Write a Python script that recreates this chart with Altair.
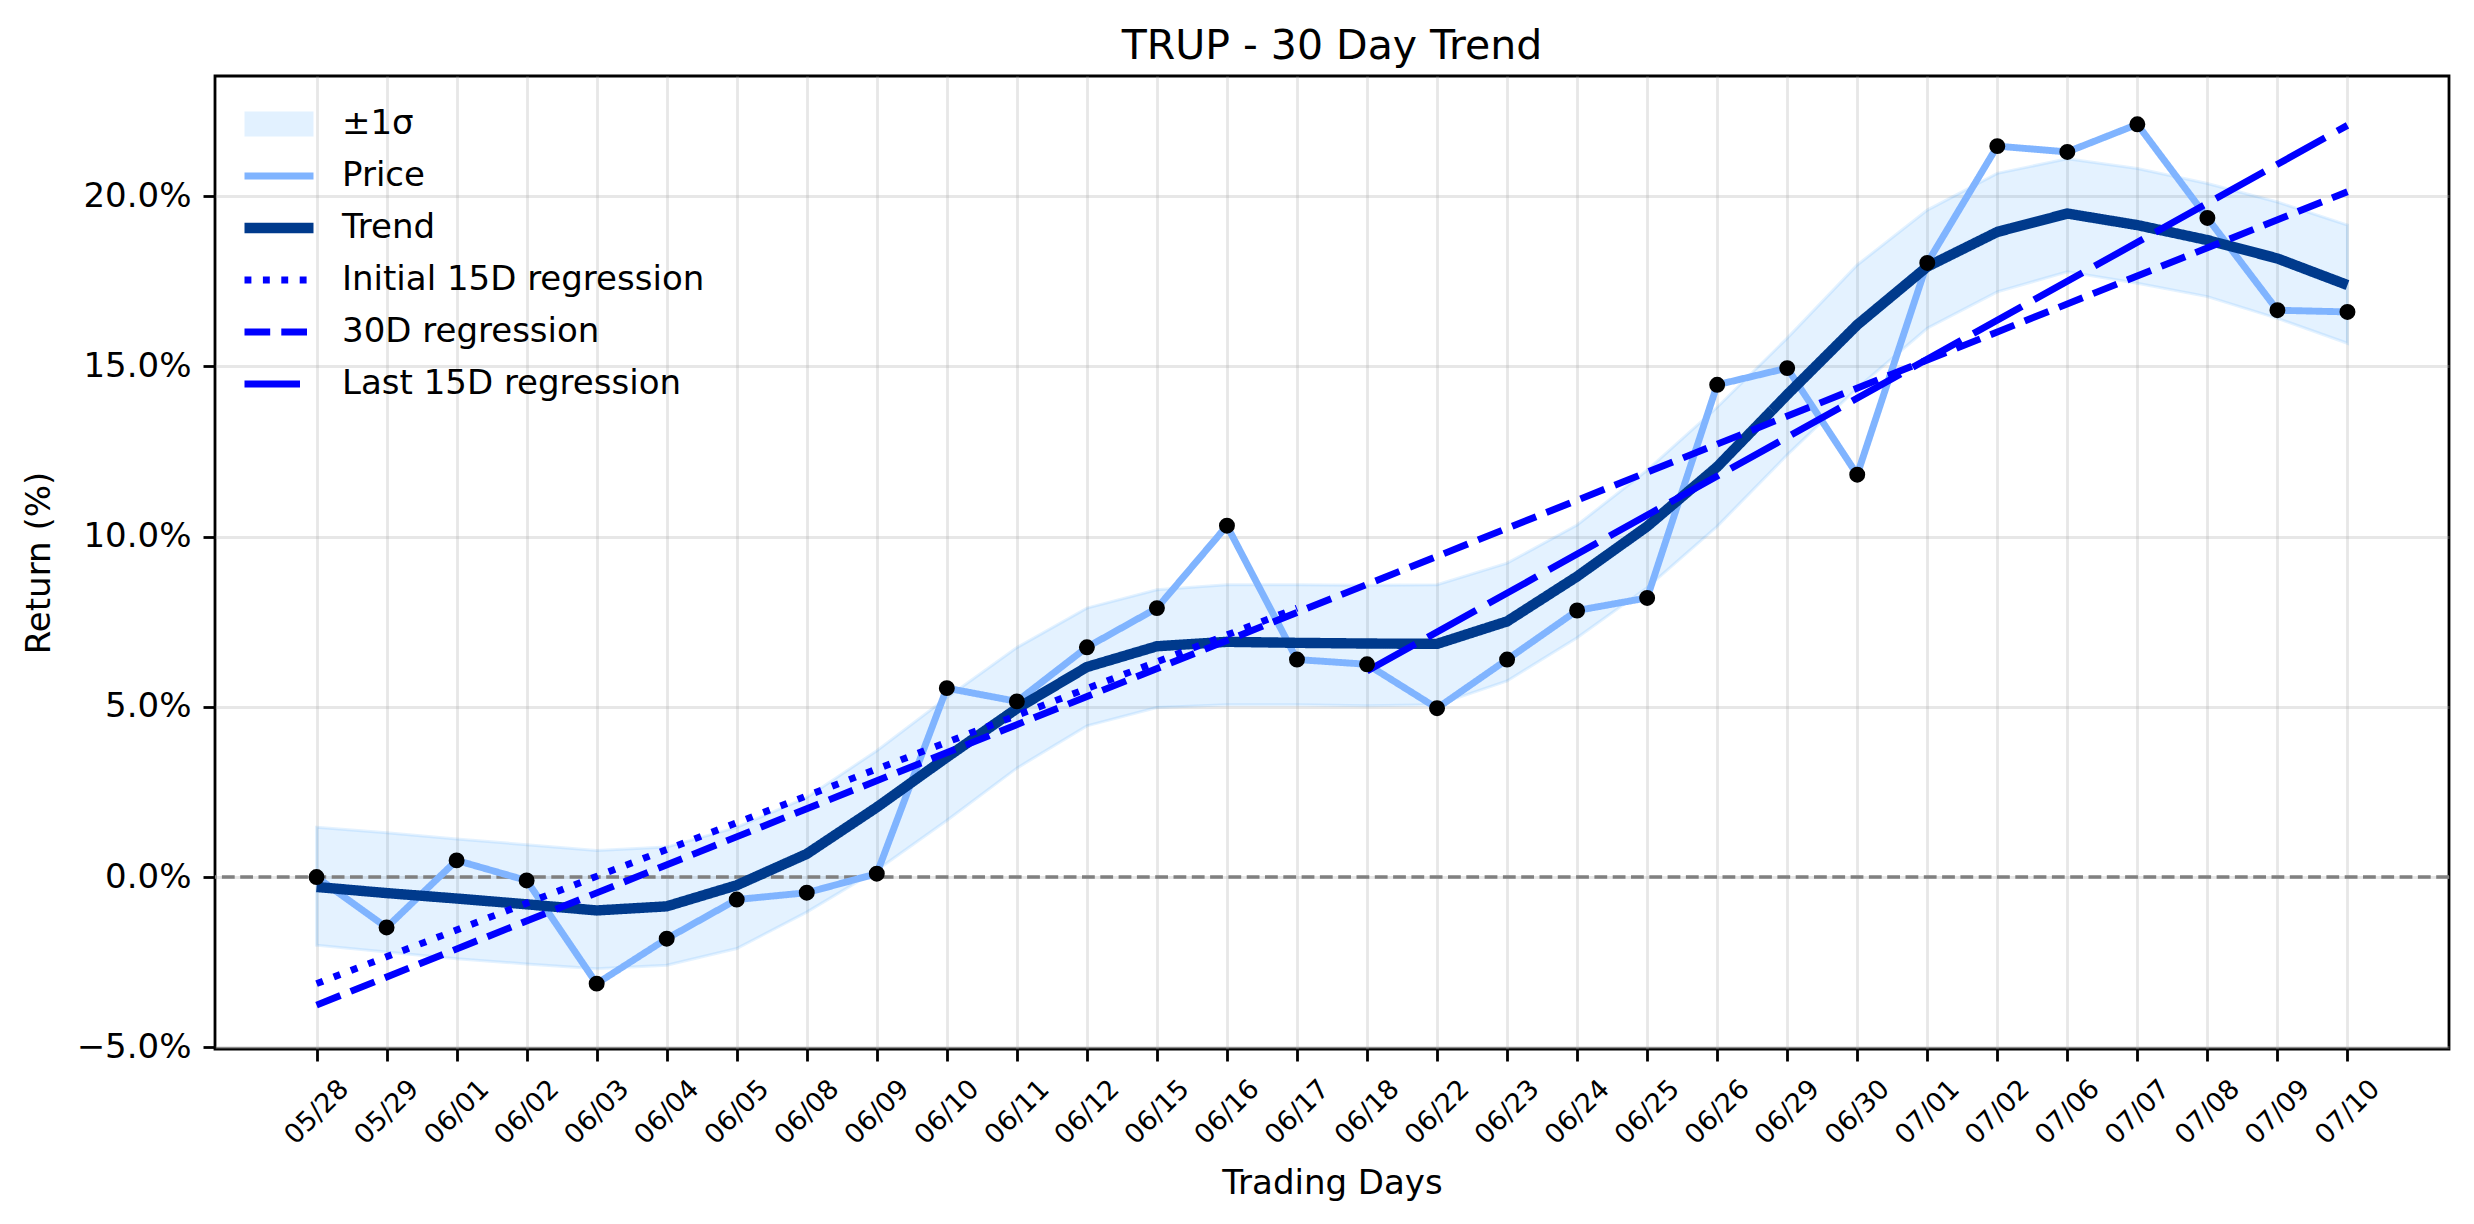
import altair as alt
import pandas as pd

# ---------------- data ----------------
dates = ["05/28", "05/29", "06/01", "06/02", "06/03", "06/04", "06/05", "06/08",
         "06/09", "06/10", "06/11", "06/12", "06/15", "06/16", "06/17", "06/18",
         "06/22", "06/23", "06/24", "06/25", "06/26", "06/29", "06/30", "07/01",
         "07/02", "07/06", "07/07", "07/08", "07/09", "07/10"]

price = [0.00, -1.48, 0.49, -0.10, -3.13, -1.81, -0.66, -0.46, 0.10, 5.55,
         5.16, 6.75, 7.90, 10.32, 6.39, 6.25, 4.96, 6.39, 7.83, 8.20,
         14.46, 14.95, 11.82, 18.04, 21.47, 21.30, 22.11, 19.36, 16.65, 16.60]

trend = [-0.29, -0.47, -0.63, -0.80, -0.98, -0.86, -0.24, 0.68, 2.05, 3.52,
         4.95, 6.17, 6.78, 6.91, 6.88, 6.86, 6.85, 7.51, 8.83, 10.30,
         12.05, 14.17, 16.22, 17.93, 18.95, 19.49, 19.15, 18.71, 18.17, 17.39]

band_upper = [1.46, 1.30, 1.12, 0.95, 0.78, 0.88, 1.46, 2.34, 3.71, 5.27,
              6.74, 7.90, 8.44, 8.59, 8.59, 8.57, 8.59, 9.22, 10.34, 11.95,
              13.80, 15.83, 17.98, 19.59, 20.67, 21.10, 20.81, 20.37, 19.83, 19.15]

band_lower = [-2.00, -2.20, -2.40, -2.55, -2.69, -2.59, -2.10, -1.03, 0.20, 1.66,
              3.20, 4.44, 4.98, 5.06, 5.06, 5.03, 5.06, 5.76, 7.03, 8.50,
              10.30, 12.40, 14.36, 16.12, 17.19, 17.78, 17.44, 17.05, 16.41, 15.68]

reg_names = ["Initial 15D regression", "30D regression", "Last 15D regression"]
reg_start_day = [0, 0, 15]
reg_end_day = [14, 29, 29]
reg_start_val = [-3.13, -3.76, 6.05]
reg_end_val = [7.90, 20.13, 22.08]

y_ticks = [-5, 0, 5, 10, 15, 20]

# ---------------- styling ----------------
FONT = "DejaVu Sans"
series_order = ["±1σ", "Price", "Trend", "Initial 15D regression",
                "30D regression", "Last 15D regression"]
series_colors = ["#1e90ff", "#80b4ff", "#003a8c", "#0000ff", "#0000ff", "#0000ff"]
series_dash = [[1, 0], [1, 0], [1, 0], [6.9, 11.5], [25.7, 11.1], [55.5, 13.9]]
series_width = [25, 6.9, 10.4, 6.9, 6.9, 6.9]
series_opacity = [0.12, 1, 1, 1, 1, 1]

W, H = 2234, 973

# ---------------- tables ----------------
days = list(range(len(dates)))
wide = pd.DataFrame({"day": days, "price": price, "trend": trend,
                     "upper": band_upper, "lower": band_lower})

rows = []
for d, v in zip(days, price):
    rows.append({"day": d, "value": v, "series": "Price"})
for d, v in zip(days, trend):
    rows.append({"day": d, "value": v, "series": "Trend"})
for n, d0, d1, v0, v1 in zip(reg_names, reg_start_day, reg_end_day, reg_start_val, reg_end_val):
    rows.append({"day": d0, "value": v0, "series": n})
    rows.append({"day": d1, "value": v1, "series": n})
long = pd.DataFrame(rows)

zero = pd.DataFrame({"y": [0]})

label_expr = "[" + ",".join("'" + d + "'" for d in dates) + "][datum.value]"

x_enc = alt.X("day:Q",
              scale=alt.Scale(domain=[-1.45, 30.45], nice=False, zero=False),
              axis=alt.Axis(values=days, labelExpr=label_expr, title="Trading Days",
                            labelAngle=-45, labelAlign="center", labelBaseline="middle",
                            labelPadding=51, labelFontSize=27, labelFlush=False,
                            labelOverlap=False, titleBaseline="alphabetic",
                            titleX=W / 2, titleY=144, titleAlign="center"))
y_scale = alt.Scale(domain=[-5.05, 23.53], nice=False, zero=False)
y_axis = alt.Axis(values=y_ticks, labelExpr="format(datum.value, '.1f') + '%'",
                  title="Return (%)", titleAngle=-90, titleX=-176, titleY=H / 2,
                  titleAlign="center", titleBaseline="middle")

leg = alt.Legend(orient="none", legendX=17, legendY=31, title=None,
                 symbolType="stroke", symbolSize=4761, clipHeight=34, rowPadding=18,
                 labelFontSize=34, labelFont=FONT, labelOffset=16, labelLimit=800,
                 padding=0, labelColor="black")

band = alt.Chart(wide).mark_area(color="#1e90ff", fillOpacity=0.12,
                                 stroke="#1e90ff", strokeOpacity=0.12,
                                 strokeWidth=3).encode(
    x=x_enc,
    y=alt.Y("upper:Q", scale=y_scale, axis=y_axis),
    y2="lower:Q",
)

zero_rule = alt.Chart(zero).mark_rule(color="#808080", strokeWidth=3.5,
                                      strokeDash=[12.8, 5.5]).encode(
    y=alt.Y("y:Q", scale=y_scale)
)

lines = alt.Chart(long).mark_line().encode(
    x=alt.X("day:Q"),
    y=alt.Y("value:Q", scale=y_scale),
    color=alt.Color("series:N", scale=alt.Scale(domain=series_order, range=series_colors),
                    legend=leg),
    strokeDash=alt.StrokeDash("series:N",
                              scale=alt.Scale(domain=series_order, range=series_dash),
                              legend=leg),
    strokeWidth=alt.StrokeWidth("series:N",
                                scale=alt.Scale(type="ordinal", domain=series_order,
                                                range=series_width),
                                legend=leg),
    opacity=alt.Opacity("series:N",
                        scale=alt.Scale(type="ordinal", domain=series_order,
                                        range=series_opacity),
                        legend=leg),
    detail="series:N",
)

points = alt.Chart(wide).mark_circle(color="black", opacity=1, size=254).encode(
    x=alt.X("day:Q"),
    y=alt.Y("price:Q", scale=y_scale),
)

chart = alt.layer(band, zero_rule, lines, points).properties(
    width=W, height=H,
    autosize=alt.AutoSizeParams(type="none"),
    padding={"left": 215, "top": 76, "right": 25, "bottom": 175},
    title=alt.TitleParams("TRUP - 30 Day Trend", font=FONT, fontSize=41,
                          fontWeight="normal", color="black", anchor="middle",
                          frame="group", baseline="alphabetic", offset=18, dy=42),
).configure(
    background="white",
    font=FONT,
).configure_view(
    stroke="black", strokeWidth=2.8,
).configure_axis(
    labelFont=FONT, titleFont=FONT, labelFontSize=34, titleFontSize=34,
    titleFontWeight="normal", labelColor="black", titleColor="black",
    domain=False, ticks=True, tickSize=12, tickWidth=2.8, tickColor="black",
    labelPadding=12, grid=True, gridColor="#b0b0b0", gridOpacity=0.3,
    gridWidth=2.8,
)

chart.save("out.html", embed_options={"renderer": "svg", "actions": False})
